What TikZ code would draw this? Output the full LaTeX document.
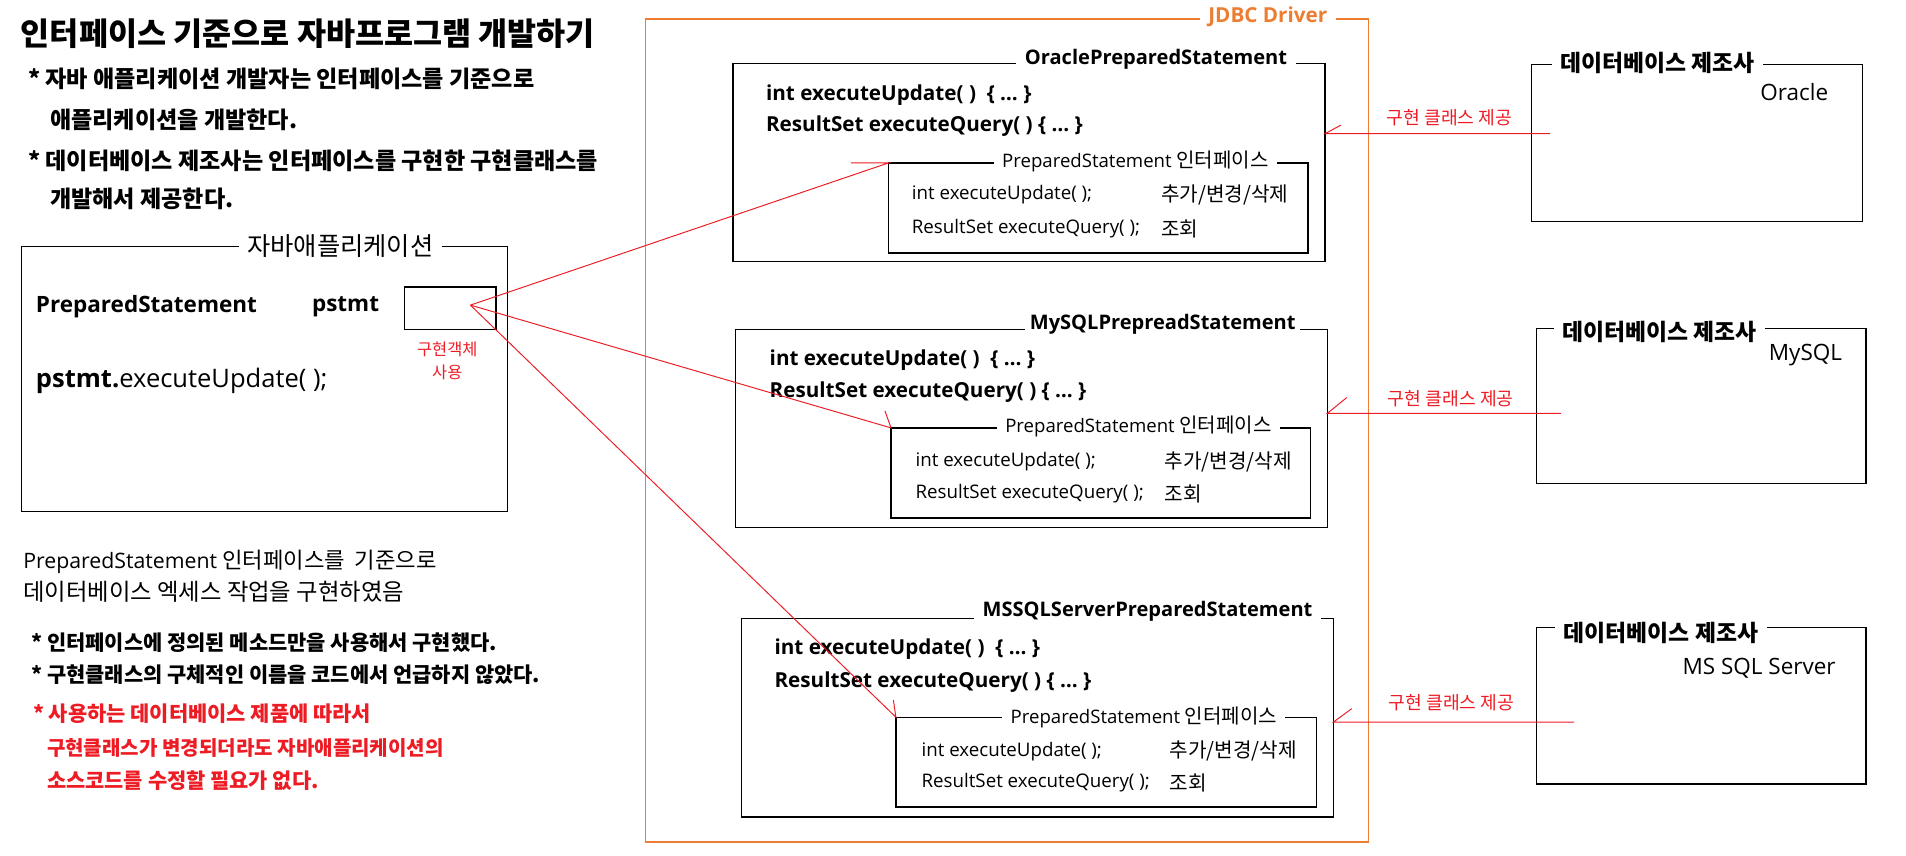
\documentclass[tikz,border=0pt]{standalone}
\usepackage{fontspec}
\setmainfont{Noto Sans CJK KR}
\newfontfamily\lat{Open Sans}
\definecolor{jred}{RGB}{237,28,36}
\definecolor{jorange}{RGB}{237,125,49}
\newcommand{\fsz}[1]{\fontsize{#1pt}{#1pt}\selectfont}
\tikzset{
  txt/.style={inner sep=0pt, anchor=west},
  frame/.style={draw=black, line width=1.1pt, inner sep=0pt, outer sep=0pt, anchor=north west},
  lbl/.style={fill=white, inner xsep=7pt, inner ysep=0pt},
  conn/.style={draw=jred, line width=0.8pt},
  clsname/.style={lbl, font=\lat\bfseries\fsz{16.5}},
  method/.style={txt, font=\lat\bfseries\fsz{17}},
  ifname/.style={lbl, font=\fsz{16.5}},
  ifrow/.style={txt, font=\lat\fsz{15.4}},
  ifkr/.style={txt, font=\fsz{16.6}},
  dblabel/.style={lbl, font=\bfseries\fsz{18.8}},
  dbname/.style={txt, font=\lat\fsz{18.5}},
  provide/.style={font=\fsz{15}, text=jred, inner sep=0pt}
}
\begin{document}
\begin{tikzpicture}[x=1pt,y=-1pt]
\useasboundingbox (0,0) rectangle (1568,704);

% ---------- left: headings ----------
\node[txt, font=\bfseries\fsz{26}] (title) at (17,27.4) {인터페이스 기준으로 자바프로그램 개발하기};
\node[txt, font=\bfseries\fsz{19}] (h1) at (23,65) {* 자바 애플리케이션 개발자는 인터페이스를 기준으로};
\node[txt, font=\bfseries\fsz{19}] (h2) at (41,99) {애플리케이션을 개발한다.};
\node[txt, font=\bfseries\fsz{19}] (h3) at (23,132) {* 데이터베이스 제조사는 인터페이스를 구현한 구현클래스를};
\node[txt, font=\bfseries\fsz{19}] (h4) at (41,164) {개발해서 제공한다.};

% ---------- Java application box ----------
\node[frame, minimum width=400pt, minimum height=218pt] (japp) at (17.6,203) {};
\node[lbl, font=\fsz{20.8}] (jappl) at (280,202) {자바애플리케이션};
\node[txt, font=\lat\bfseries\fsz{18.5}] (ps) at (29.4,252) {PreparedStatement};
\node[txt, font=\lat\bfseries\fsz{18.5}] (pstmt) at (256.5,252) {pstmt};
\node[frame, minimum width=75pt, minimum height=35pt] (obj) at (333,236) {};
\node[font=\fontsize{13.5pt}{19pt}\selectfont, text=jred, align=center, inner sep=0pt] (objl) at (368,297) {구현객체\\사용};
\node[txt, font=\lat\fsz{21}] (call) at (29.4,313) {{\bfseries pstmt.}executeUpdate( );};
\coordinate (src) at (387,251);

% ---------- left: bottom notes ----------
\node[txt, font=\fsz{18.3}] (n1) at (19,462) {{\lat\fsz{17.5}PreparedStatement} 인터페이스를~~기준으로};
\node[txt, font=\fsz{19.2}] (n2) at (19,487) {데이터베이스 엑세스 작업을 구현하였음};
\node[txt, font=\bfseries\fsz{17.2}] (n3) at (25.6,529) {* 인터페이스에 정의된 메소드만을 사용해서 구현했다.};
\node[txt, font=\bfseries\fsz{17.2}] (n4) at (25.6,555) {* 구현클래스의 구체적인 이름을 코드에서 언급하지 않았다.};
\node[txt, font=\bfseries\fsz{17.2}, text=jred] (n5) at (27,587) {* 사용하는 데이터베이스 제품에 따라서};
\node[txt, font=\bfseries\fsz{16.5}, text=jred] (n6) at (38.5,615) {구현클래스가 변경되더라도 자바애플리케이션의};
\node[txt, font=\bfseries\fsz{17.2}, text=jred] (n7) at (38.5,642) {소스코드를 수정할 필요가 없다.};

% ---------- JDBC driver frame ----------
\node[frame, draw=jorange, minimum width=595pt, minimum height=677pt] (jdbc) at (531,15.6) {};
\node[lbl, font=\lat\bfseries\fsz{17}, text=jorange] (jdbcl) at (1043,14) {JDBC Driver};

% Oracle
\node[frame, minimum width=487pt, minimum height=163pt] (ora) at (603,52) {};
\node[clsname] (oral) at (951,49) {OraclePreparedStatement};
\node[method] (om1) at (630,78) {int executeUpdate( )~~\{ … \}};
\node[method] (om2) at (630,104) {ResultSet executeQuery( ) \{ … \}};
\node[frame, minimum width=345pt, minimum height=74pt] (oi) at (731,134) {};
\node[ifname] (oil) at (934,133) {{\lat\fsz{15.3}PreparedStatement} 인터페이스};
\node[ifrow] (oi1) at (750,160) {int executeUpdate( );};
\node[ifkr] (oi1k) at (955,160) {추가/변경/삭제};
\node[ifrow] (oi2) at (750,188) {ResultSet executeQuery( );};
\node[ifkr] (oi2k) at (955,188) {조회};

% MySQL
\node[frame, minimum width=487pt, minimum height=163pt] (my) at (605,271) {};
\node[clsname, inner xsep=4pt] (myl) at (956.5,267) {MySQLPrepreadStatement};
\node[method] (mm1) at (633,296) {int executeUpdate( )~~\{ … \}};
\node[method] (mm2) at (633,323) {ResultSet executeQuery( ) \{ … \}};
\node[frame, minimum width=345pt, minimum height=74pt] (mi) at (733,352) {};
\node[ifname] (mil) at (936.5,351) {{\lat\fsz{15.3}PreparedStatement} 인터페이스};
\node[ifrow] (mi1) at (753,380) {int executeUpdate( );};
\node[ifkr] (mi1k) at (958,380) {추가/변경/삭제};
\node[ifrow] (mi2) at (753,406) {ResultSet executeQuery( );};
\node[ifkr] (mi2k) at (958,406) {조회};

% MSSQL
\node[frame, minimum width=487pt, minimum height=163pt] (ms) at (610,509) {};
\node[clsname] (msl) at (944,503) {MSSQLServerPreparedStatement};
\node[method] (sm1) at (637,534) {int executeUpdate( )~~\{ … \}};
\node[method] (sm2) at (637,561) {ResultSet executeQuery( ) \{ … \}};
\node[frame, minimum width=346pt, minimum height=74pt] (si) at (737,590) {};
\node[ifname] (sil) at (941,590) {{\lat\fsz{15.3}PreparedStatement} 인터페이스};
\node[ifrow] (si1) at (758,618) {int executeUpdate( );};
\node[ifkr] (si1k) at (962,618) {추가/변경/삭제};
\node[ifrow] (si2) at (758,644) {ResultSet executeQuery( );};
\node[ifkr] (si2k) at (962,644) {조회};

% ---------- database vendors ----------
\node[frame, minimum width=272pt, minimum height=129pt] (db1) at (1260,53) {};
\node[dblabel] (db1l) at (1363.5,52) {데이터베이스 제조사};
\node[dbname] (db1n) at (1448,75.6) {Oracle};
\node[frame, minimum width=271pt, minimum height=128pt] (db2) at (1264,270) {};
\node[dblabel] (db2l) at (1365,273) {데이터베이스 제조사};
\node[dbname] (db2n) at (1455,292) {MySQL};
\node[frame, minimum width=271pt, minimum height=129pt] (db3) at (1264,516) {};
\node[dblabel] (db3l) at (1366.5,521) {데이터베이스 제조사};
\node[dbname] (db3n) at (1384,550) {MS SQL Server};

\coordinate (p1) at (1275,110);
\coordinate (p2) at (1284,340);
\coordinate (p3) at (1295,594);
\node[provide] (pl1) at (1192.5,97) {구현 클래스 제공};
\node[provide] (pl2) at (1193.5,328) {구현 클래스 제공};
\node[provide] (pl3) at (1194,578) {구현 클래스 제공};

% ---------- connectors ----------
\draw[conn] (p1) -- (p1 -| ora.east) -- ++(13,-7);
\draw[conn] (p2) -- (p2 -| my.east) -- ++(16,-13);
\draw[conn] (p3) -- (p3 -| ms.east) -- ++(15,-11);

\draw[conn] (src) -- (oi.north west) -- ++(-31,0);
\draw[conn] (src) -- (mi.north west) -- ++(-5,-14);
\draw[conn] (src) -- (si.north west) -- ++(-2,-14);
\end{tikzpicture}
\end{document}
